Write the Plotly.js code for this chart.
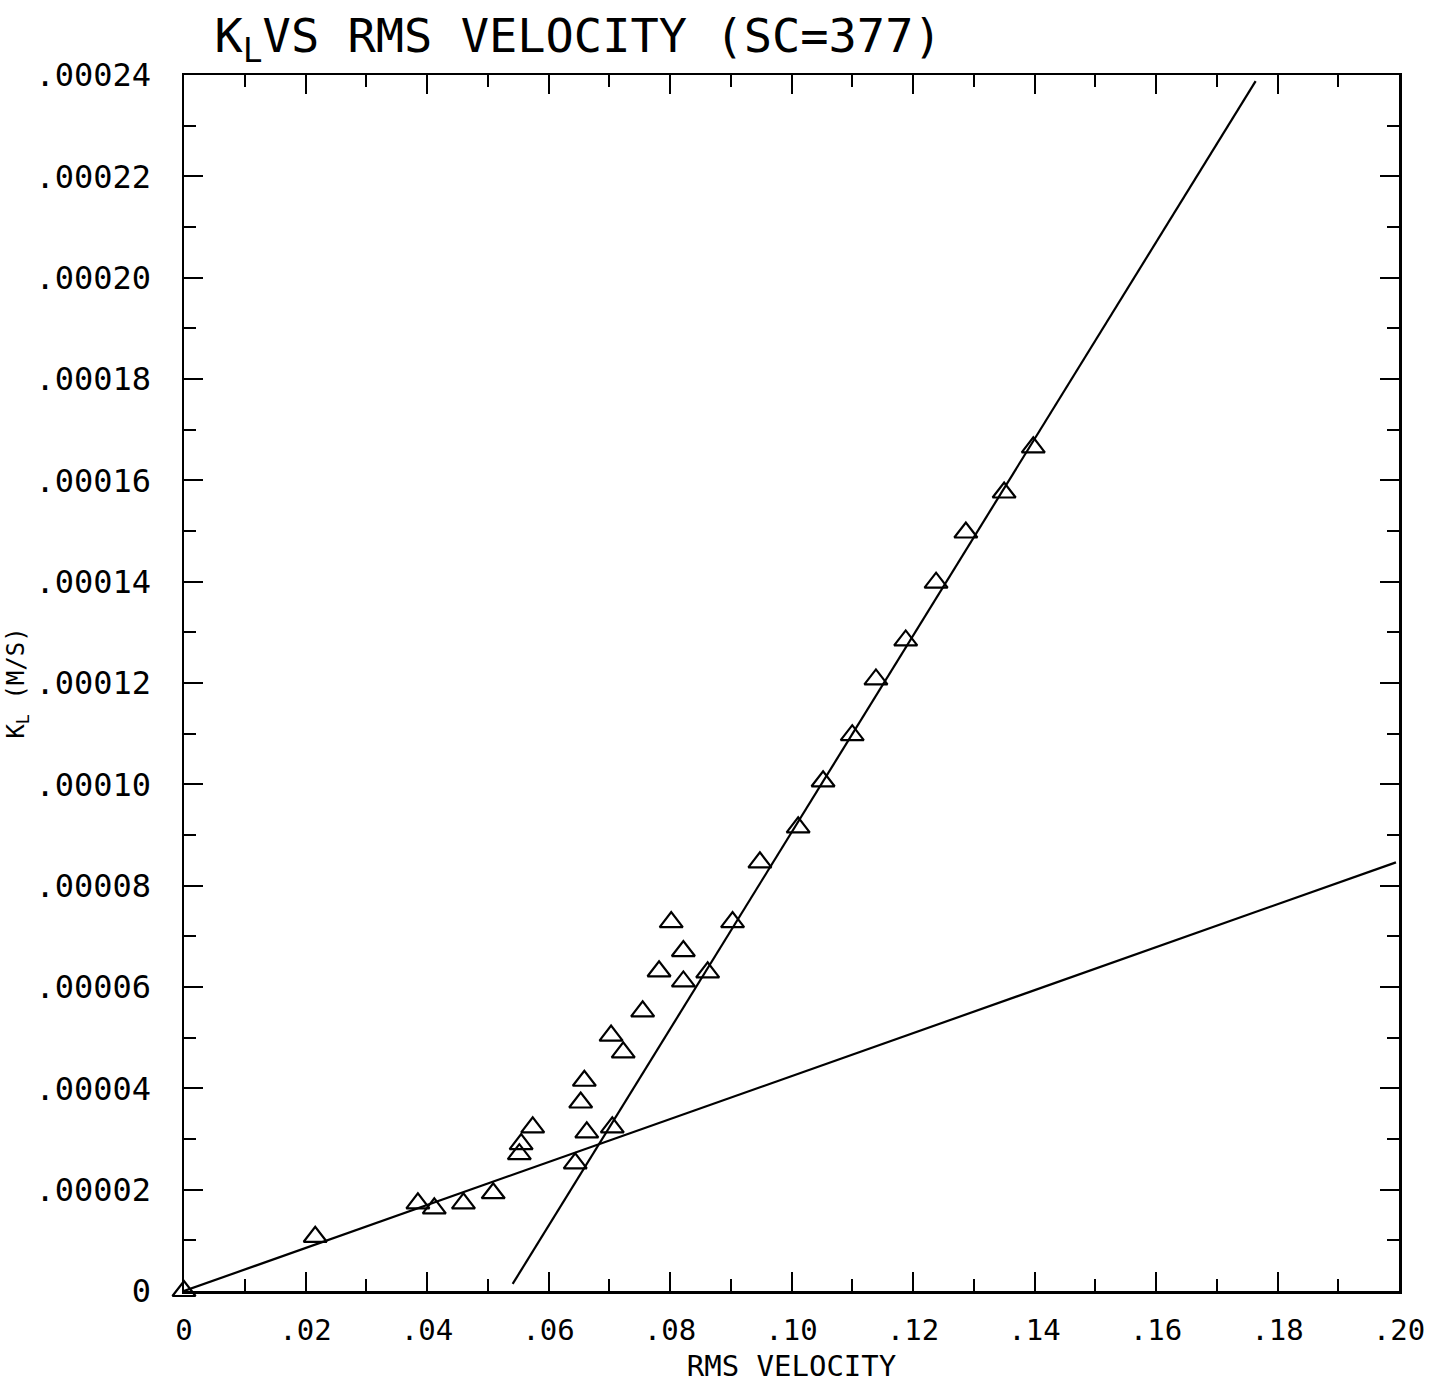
<!DOCTYPE html>
<html>
<head>
<meta charset="utf-8">
<script src="https://cdn.plot.ly/plotly-3.0.1.min.js"></script>
<style>
  html, body { margin: 0; padding: 0; background: #ffffff; }
  #chart { width: 1431px; height: 1383px; }
</style>
</head>
<body>
<div id="chart"></div>
<script>
// ---- data ----
const rmsVelocity = [0.0, 0.0216, 0.0385, 0.0412, 0.0460, 0.0509, 0.0552, 0.0555, 0.0574,
  0.0644, 0.0653, 0.0659, 0.0663, 0.0705, 0.0703, 0.0723, 0.0755, 0.0782, 0.0802,
  0.0822, 0.0822, 0.0862, 0.0903, 0.0948, 0.1011, 0.1052, 0.1100, 0.1139, 0.1188,
  0.1238, 0.1287, 0.1350, 0.1398];
const kL = [0.0, 0.0000107, 0.0000173, 0.0000163, 0.0000173, 0.0000193, 0.0000270, 0.0000290, 0.0000323,
  0.0000252, 0.0000372, 0.0000415, 0.0000313, 0.0000323, 0.0000504, 0.0000471, 0.0000552, 0.0000631, 0.0000728,
  0.0000671, 0.0000611, 0.0000629, 0.0000728, 0.0000846, 0.0000915, 0.0001006, 0.0001097, 0.0001207, 0.0001284,
  0.0001398, 0.0001497, 0.0001576, 0.0001665];

// fitted lines (end points as drawn)
const lowFitX = [0.0, 0.1995];
const lowFitY = [0.0, 0.0000846];
const highFitX = [0.0541, 0.1764];
const highFitY = [0.0000014, 0.0002388];

// tick labels
const xTickVals = [0, 0.02, 0.04, 0.06, 0.08, 0.10, 0.12, 0.14, 0.16, 0.18, 0.20];
const xTickText = ['0', '.02', '.04', '.06', '.08', '.10', '.12', '.14', '.16', '.18', '.20'];
const yTickVals = [0, 0.00002, 0.00004, 0.00006, 0.00008, 0.00010, 0.00012, 0.00014, 0.00016, 0.00018, 0.00020, 0.00022, 0.00024];
const yTickText = ['0', '.00002', '.00004', '.00006', '.00008', '.00010', '.00012', '.00014', '.00016', '.00018', '.00020', '.00022', '.00024'];

const FONT = '"DejaVu Sans Mono", "Liberation Mono", monospace';

const traces = [
  {
    x: lowFitX, y: lowFitY, type: 'scatter', mode: 'lines',
    line: { color: '#000000', width: 2.2 }, hoverinfo: 'skip', showlegend: false
  },
  {
    x: highFitX, y: highFitY, type: 'scatter', mode: 'lines',
    line: { color: '#000000', width: 2.2 }, hoverinfo: 'skip', showlegend: false
  },
  {
    x: rmsVelocity, y: kL, type: 'scatter', mode: 'markers',
    marker: { symbol: 'triangle-up-open', size: 20, color: '#000000', line: { color: '#000000', width: 2.2 } },
    cliponaxis: false, showlegend: false
  }
];

const layout = {
  width: 1431, height: 1383,
  paper_bgcolor: '#ffffff', plot_bgcolor: '#ffffff',
  margin: { l: 184, r: 32, t: 75, b: 92, pad: 0 },
  showlegend: false,
  font: { family: FONT, color: '#000000', size: 28 },
  title: {
    text: 'K<sub>L</sub>VS RMS VELOCITY (SC=377)',
    font: { family: FONT, size: 47, color: '#000000' },
    xref: 'container', yref: 'container',
    x: 0.4040, xanchor: 'center', y: 0.9740, yanchor: 'middle'
  },
  xaxis: {
    range: [0, 0.2], autorange: false,
    showgrid: false, zeroline: false,
    showline: true, linecolor: '#000000', linewidth: 2.5, mirror: 'ticks',
    ticks: 'inside', ticklen: 19, tickwidth: 2, tickcolor: '#000000',
    tickmode: 'array', tickvals: xTickVals, ticktext: xTickText,
    tickfont: { family: FONT, size: 29, color: '#000000' },
    ticklabelstandoff: 12,
    minor: { ticks: 'inside', ticklen: 12, tickwidth: 2, tickcolor: '#000000', dtick: 0.01, tick0: 0, showgrid: false },
    title: { text: 'RMS VELOCITY', font: { family: FONT, size: 29, color: '#000000' }, standoff: 10 }
  },
  yaxis: {
    range: [0, 0.00024], autorange: false,
    showgrid: false, zeroline: false,
    showline: true, linecolor: '#000000', linewidth: 2.5, mirror: 'ticks',
    ticks: 'inside', ticklen: 19, tickwidth: 2, tickcolor: '#000000',
    tickmode: 'array', tickvals: yTickVals, ticktext: yTickText,
    tickfont: { family: FONT, size: 32, color: '#000000' },
    ticklabelstandoff: 24,
    minor: { ticks: 'inside', ticklen: 12, tickwidth: 2, tickcolor: '#000000', dtick: 0.00001, tick0: 0, showgrid: false },
    title: { text: 'K<sub>L</sub> (M/S)', font: { family: FONT, size: 24, color: '#000000' }, standoff: 4 }
  }
};

Plotly.newPlot('chart', traces, layout, { displayModeBar: false, staticPlot: true });
</script>
</body>
</html>
